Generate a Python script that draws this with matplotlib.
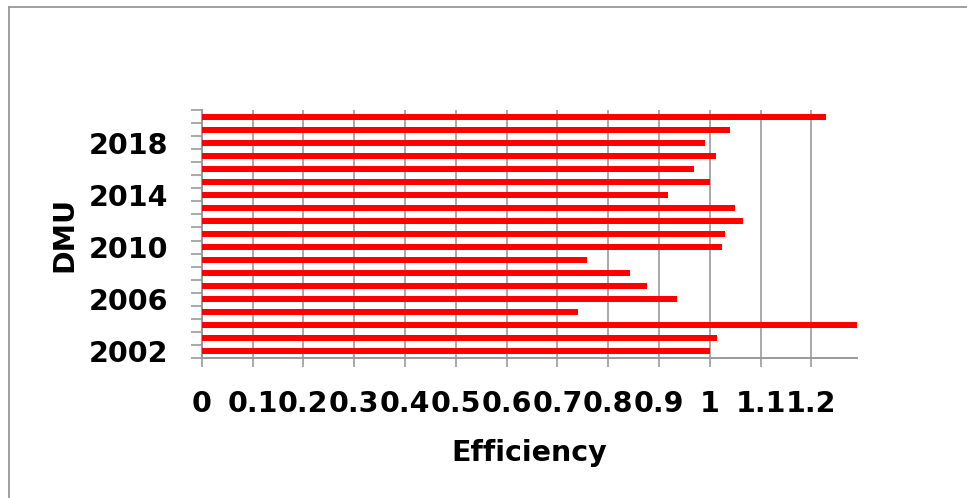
import matplotlib
matplotlib.use("Agg")
import matplotlib.pyplot as plt
from matplotlib.lines import Line2D

years = list(range(2002, 2021))
efficiency = [1.001, 1.015, 1.289, 0.741, 0.936, 0.876, 0.842, 0.759,
              1.023, 1.029, 1.066, 1.050, 0.917, 1.001, 0.968, 1.012,
              0.991, 1.039, 1.229]
x_ticks = [0, 0.1, 0.2, 0.3, 0.4, 0.5, 0.6, 0.7, 0.8, 0.9, 1.0, 1.1, 1.2]
x_tick_labels = ["0", "0.1", "0.2", "0.3", "0.4", "0.5", "0.6", "0.7",
                 "0.8", "0.9", "1", "1.1", "1.2"]
y_label_years = [2002, 2006, 2010, 2014, 2018]

plt.rcParams['font.family'] = ['DejaVu Sans']
gray = '#999999'

fig = plt.figure(figsize=(9.67, 4.98), dpi=100)
ax = fig.add_axes([201.7/967, 1-357.7/498, 655/967, 247.4/498])

ax.barh(years, efficiency, height=0.45, color='#ff0000', zorder=3)

ax.set_xlim(0, 1.289)
ax.set_ylim(2001.5, 2020.5)
ax.set_axisbelow(True)

ax.set_xticks(x_ticks)
ax.set_xticklabels(x_tick_labels, fontsize=20.5, fontweight='bold')
ax.grid(axis='x', color=gray, linewidth=1.2)
ax.tick_params(axis='x', length=6.5, width=1.2, color=gray, pad=17)

ax.set_yticks(y_label_years)
ax.set_yticklabels([str(y) for y in y_label_years], fontsize=20.5, fontweight='bold')
ax.set_yticks([y - 0.5 for y in years] + [years[-1] + 0.5], minor=True)
ax.tick_params(axis='y', which='major', length=0, pad=24)
ax.tick_params(axis='y', which='minor', length=8, width=1.2, color=gray)

for s in ['top', 'right']:
    ax.spines[s].set_visible(False)
for s in ['left', 'bottom']:
    ax.spines[s].set_color(gray)
    ax.spines[s].set_linewidth(1.4)

ax.set_xlabel('Efficiency', fontsize=20.5, fontweight='bold', va='center')
ax.xaxis.set_label_coords(0.5, -0.384)
ax.set_ylabel('DMU', fontsize=20.5, fontweight='bold', va='center')
ax.yaxis.set_label_coords(-0.21, 0.5)

top_y = 1 - 7.5/498
left_x = 8.5/967
fig.add_artist(Line2D([left_x, 1.0], [top_y, top_y], transform=fig.transFigure,
                      color=gray, linewidth=1.3))
fig.add_artist(Line2D([left_x, left_x], [0.0, top_y], transform=fig.transFigure,
                      color=gray, linewidth=1.3))

fig.savefig('out.png', dpi=100)
